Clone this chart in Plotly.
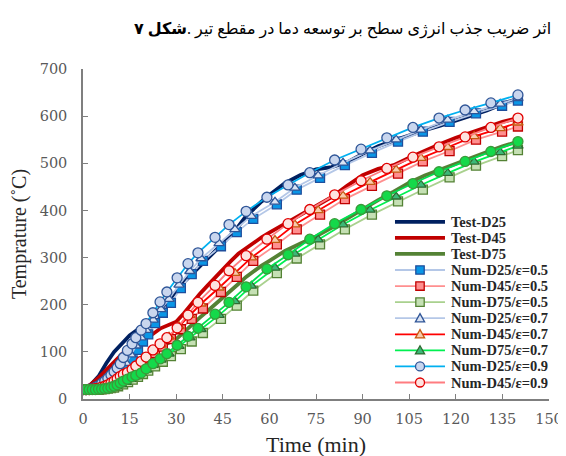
import plotly.graph_objects as go

# ---------------- data ----------------
t_test = [0, 2.5, 5, 7.5, 10, 12.5, 15, 17.5, 20, 22.5, 25, 27.5, 30, 32.5, 35, 37.5, 40, 42.5, 45, 47.5,
          50, 52.5, 55, 57.5, 60, 65, 70, 75, 80, 85, 90, 95, 100, 105, 110, 115, 120, 125, 130, 135, 140]
test_d25 = [20, 30, 48, 76, 100, 119, 135, 147, 158, 172, 190, 210, 228, 248, 264, 282, 298, 314, 330, 348,
            366, 388, 404, 419, 433, 458, 475, 487, 492, 502, 520, 536, 548, 560, 570, 580, 590, 600, 612, 626, 637]
test_d45 = [20, 31, 45, 62, 80, 97, 112, 120, 128, 138, 150, 158, 164, 182, 203, 222, 240, 258, 275, 292,
            308, 320, 332, 343, 353, 372, 390, 408, 428, 452, 475, 488, 496, 512, 527, 541, 554, 566, 578, 588, 596]
test_d75 = [20, 22, 25, 30, 40, 54, 66, 78, 89, 100, 111, 119, 127, 142, 158, 172, 186, 200, 215, 229,
            244, 259, 272, 283, 293, 314, 330, 345, 363, 383, 404, 422, 440, 459, 474, 487, 500, 512, 524, 536, 546]

t_e05 = [0, 1, 2, 3, 4, 5, 6, 7, 8, 9, 10, 11.3, 12.9, 14.5, 16, 17.7, 19.3, 21, 23.2, 25.7, 28.3, 31.5, 35,
         38.6, 44.4, 49.5, 54.8, 62.4, 68.8, 76.3, 84.3, 93, 101.4, 109.4, 118, 126.5, 134.9, 140]
d25_e05 = [20, 20, 20, 20, 20, 21, 22, 24, 26, 28, 32, 39, 50, 63, 82, 104, 122, 137, 161, 183, 204, 235, 265,
           293, 324, 354, 382, 413, 444, 469, 496, 522, 546, 567, 588, 606, 622, 633]
d45_e05 = [20, 20, 20, 20, 20, 20, 21, 22, 24, 27, 30, 35, 42, 50, 58, 68, 77, 86, 97, 111, 127, 148, 170,
           192, 227, 259, 293, 328, 360, 391, 424, 452, 478, 504, 526, 550, 567, 578]
d75_e05 = [20, 20, 20, 20, 20, 20, 21, 21, 22, 23, 24, 27, 31, 36, 41, 47, 53, 60, 69, 79, 91, 106, 122,
           140, 170, 198, 230, 267, 298, 328, 360, 391, 419, 444, 470, 495, 515, 528]

t_e07 = [0, 1, 2, 3, 4, 5, 6, 7, 8, 9, 10, 10.9, 12.4, 13.9, 15.4, 17.1, 18.7, 20.4, 22.6, 25.1, 27.7, 30.9,
         34.4, 38, 43.8, 48.9, 54.2, 61.8, 68.2, 75.7, 83.7, 92.4, 100.8, 108.8, 117.4, 125.9, 134.3, 140]
d25_e07 = [20, 20, 20, 21, 22, 24, 27, 30, 34, 38, 43, 49, 62, 76, 94, 113, 130, 146, 168, 190, 212, 242,
           271, 298, 330, 360, 388, 418, 448, 474, 501, 527, 550, 571, 592, 610, 626, 638]
d45_e07 = [20, 20, 20, 20, 21, 21, 22, 23, 25, 28, 31, 35, 42, 49, 58, 68, 78, 88, 101, 115, 132, 154,
           178, 202, 236, 267, 300, 337, 370, 400, 431, 460, 486, 511, 534, 557, 574, 586]
d75_e07 = [20, 20, 20, 20, 20, 20, 21, 21, 22, 23, 25, 27, 31, 36, 42, 48, 55, 62, 72, 83, 96, 112,
           130, 148, 178, 207, 240, 278, 308, 338, 370, 401, 429, 454, 479, 503, 523, 537]

t_e09 = [0, 1, 2, 3, 4, 5, 6, 7, 8, 9, 10, 11, 12, 13, 14.3, 15.8, 17, 18.7, 20.3, 22.5, 24.8, 27, 30.3,
         33.8, 37, 42.5, 47, 52.5, 59.2, 66, 73, 81, 89.5, 97.8, 106.2, 114.6, 123, 131.3, 140]
d25_e09 = [20, 20, 21, 22, 25, 28, 33, 38, 44, 51, 58, 66, 75, 88, 103, 117, 130, 146, 160, 183, 206, 227, 257,
           287, 310, 343, 370, 398, 428, 454, 480, 507, 530, 554, 576, 596, 613, 628, 645]
d45_e09 = [20, 20, 20, 21, 22, 23, 25, 27, 30, 34, 38, 43, 48, 52, 56, 63, 70, 80, 89, 104, 117, 130, 151,
           178, 205, 241, 272, 304, 339, 372, 402, 433, 463, 489, 513, 535, 556, 576, 596]
d75_e09 = [20, 20, 20, 20, 20, 21, 21, 22, 23, 25, 27, 30, 34, 38, 42, 47, 50, 55, 64, 75, 85, 96, 114,
           133, 150, 180, 205, 238, 276, 306, 339, 372, 402, 431, 457, 482, 504, 525, 546]

x_ticks = [0, 15, 30, 45, 60, 75, 90, 105, 120, 135, 150]
y_ticks = [0, 100, 200, 300, 400, 500, 600, 700]

# title pieces (the bold figure label sits at the right end of the right-to-left line)
title_rest = "اثر ضریب جذب انرژی سطح بر توسعه دما در مقطع تیر"
title_label = "شکل ۷"

series = [
    ("Test-D25", t_test, test_d25, "#002060", 3.8, None, None, None, 0, True),
    ("Test-D45", t_test, test_d45, "#C00000", 3.8, None, None, None, 0, True),
    ("Test-D75", t_test, test_d75, "#548235", 3.8, None, None, None, 0, True),
    ("Num-D25/ε=0.5", t_e05, d25_e05, "#B4C7E7", 1.8, "square", "#0A96E6", "#1F4E9C", 9, True),
    ("Num-D45/ε=0.5", t_e05, d45_e05, "#FF8F8F", 1.8, "square", "#FF8F8F", "#C00000", 9, True),
    ("Num-D75/ε=0.5", t_e05, d75_e05, "#A9D18E", 1.8, "square", "#C5E0B4", "#548235", 9, True),
    ("Num-D25/ε=0.7", t_e07, d25_e07, "#B4C7E7", 1.8, "triangle-up", "#DAE3F3", "#2F5597", 9, True),
    ("Num-D45/ε=0.7", t_e07, d45_e07, "#FF0000", 1.8, "triangle-up", "#F8CBAD", "#C55A11", 9, True),
    ("Num-D75/ε=0.7", t_e07, d75_e07, "#00F050", 1.8, "triangle-up", "#3CB878", "#2E6B30", 9, True),
    ("Num-D25/ε=0.9", t_e09, d25_e09, "#00B0F0", 1.8, "circle", "#C9D6EE", "#2F5597", 10, True),
    ("Num-D45/ε=0.9", t_e09, d45_e09, "#FF7C80", 1.8, "circle", "#FDE3E0", "#E00000", 10, True),
    ("Num-D75/ε=0.9", t_e09, d75_e09, "#00E050", 1.8, "circle", "#14D94A", "#3A9A3A", 10, False),
]

fig = go.Figure()
for name, xs, ys, lc, lw, sym, fill, edge, msize, inleg in series:
    if sym is None:
        fig.add_trace(go.Scatter(x=xs, y=ys, name=name, mode="lines", showlegend=False,
                                 line=dict(color=lc, width=lw)))
    else:
        fig.add_trace(go.Scatter(x=xs, y=ys, name=name, mode="lines+markers", showlegend=False,
                                 line=dict(color=lc, width=lw),
                                 marker=dict(symbol=sym, size=msize, color=fill,
                                             line=dict(color=edge, width=1.3))))

# ---------------- legend (compact rows as in the original) ----------------
leg_top_y = 0.537
leg_step = 0.0487
leg_x0, leg_x1, leg_mx, leg_tx = 0.6695, 0.7768, 0.7232, 0.785
shapes = []
annotations = []
row = 0
for name, xs, ys, lc, lw, sym, fill, edge, msize, inleg in series:
    if not inleg:
        continue
    yy = leg_top_y - row * leg_step
    shapes.append(dict(type="line", xref="paper", yref="paper", x0=leg_x0, x1=leg_x1, y0=yy, y1=yy,
                       line=dict(color=lc, width=lw), layer="above"))
    if sym is not None:
        h = 4.2
        common = dict(xref="paper", yref="paper", xsizemode="pixel", ysizemode="pixel",
                      xanchor=leg_mx, yanchor=yy, fillcolor=fill, line=dict(color=edge, width=1.3),
                      layer="above")
        if sym == "square":
            shapes.append(dict(type="rect", x0=-h, x1=h, y0=-h, y1=h, **common))
        elif sym == "circle":
            shapes.append(dict(type="circle", x0=-h - 0.3, x1=h + 0.3, y0=-h - 0.3, y1=h + 0.3, **common))
        else:
            shapes.append(dict(type="path", path="M-4.6,-3.6 L4.6,-3.6 L0,4.6 Z", **common))
    annotations.append(dict(text="<b>%s</b>" % name, xref="paper", yref="paper", x=leg_tx, y=yy,
                            xanchor="left", yanchor="middle", showarrow=False,
                            font=dict(family="Liberation Serif", size=14.5, color="#262626")))
    row += 1

annotations.append(dict(text=title_rest + " .<b>" + title_label + "</b>",
                        xref="paper", yref="paper", x=1.009, y=1.121, xanchor="right", yanchor="middle",
                        showarrow=False,
                        font=dict(family="Liberation Serif, DejaVu Sans", size=16, color="#000000")))

axis_common = dict(showgrid=False, zeroline=False, showline=True, linecolor="#7F7F7F", linewidth=1.5,
                   ticks="inside", ticklen=5, tickwidth=1.2, tickcolor="#7F7F7F",
                   tickfont=dict(family="DejaVu Serif", size=14.5, color="#595959"),
                   ticklabeloverflow="allow")

fig.update_xaxes(range=[0, 150], tickvals=x_ticks, ticktext=[str(v) for v in x_ticks],
                 title=dict(text="Time (min)", font=dict(family="Liberation Serif", size=22, color="#262626"),
                            standoff=10),
                 ticklabelstandoff=6, **axis_common)
fig.update_yaxes(range=[0, 700], tickvals=y_ticks, ticktext=[str(v) for v in y_ticks],
                 title=dict(text="Temprature (˚C)", font=dict(family="Liberation Serif", size=20, color="#262626"),
                            standoff=8),
                 ticklabelstandoff=11, **axis_common)

fig.update_layout(
    width=558, height=456,
    margin=dict(l=75, r=17, t=61, b=65, autoexpand=False),
    paper_bgcolor="white", plot_bgcolor="white",
    showlegend=False,
    shapes=shapes,
    annotations=annotations,
)

fig.write_html("out.html")
